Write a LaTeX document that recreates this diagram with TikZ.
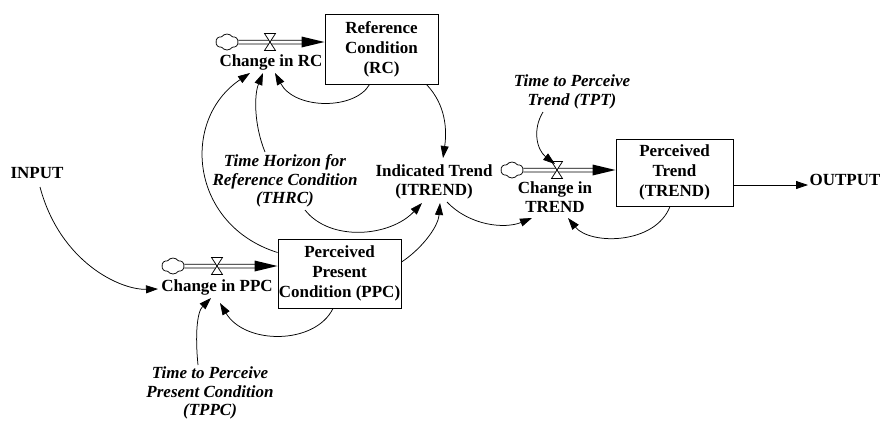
\documentclass[tikz,border=0pt]{standalone}
\usepackage{fontspec}
\setmainfont{Liberation Serif}
\usetikzlibrary{arrows.meta,shapes.symbols}
\begin{document}
\begin{tikzpicture}[x=1pt,y=-1pt,
  stock/.style={draw, line width=1pt, rectangle, inner sep=0pt, align=center, font=\fontsize{17}{20}\selectfont\bfseries},
  lbl/.style={inner sep=0pt, align=center, font=\fontsize{17}{19}\selectfont\bfseries},
  ilbl/.style={inner sep=0pt, align=center, font=\fontsize{17}{18.5}\selectfont\bfseries\itshape},
  link/.style={line width=0.75pt, -{Triangle[length=12pt,width=8pt]}},
  cloudsrc/.style={cloud, cloud puffs=6, cloud puff arc=110, draw, line width=0.75pt, minimum width=22pt, minimum height=16pt, inner sep=0pt},
  pipe/.style={draw, line width=0.75pt, double distance=3pt},
  valvestyle/.style={draw, fill=white, line width=0.75pt}
]
\useasboundingbox (0,0) rectangle (880,421);

% stocks
\node[stock, minimum width=113pt, minimum height=70pt] (rc) at (381.5,49) {Reference\\Condition\\(RC)};
\node[stock, minimum width=117pt, minimum height=67pt] (trend) at (674.5,172.5) {Perceived\\Trend\\(TREND)};
\node[stock, minimum width=123pt, minimum height=69pt] (ppc) at (339.5,273.5) {Perceived\\Present\\Condition (PPC)};

% labels
\node[lbl] (itrend) at (434,182) {Indicated Trend\\(ITREND)};
\node[lbl] (crc) at (271,62) {Change in RC};
\node[lbl] (cppc) at (217,287) {Change in PPC};
\node[lbl] (ctrend) at (555,197) {Change in\\TREND};
\node[lbl] (input) at (37,173) {INPUT};
\node[lbl] (output) at (845,180) {OUTPUT};
\node[ilbl] (thrc) at (285,181) {Time Horizon for\\Reference Condition\\(THRC)};
\node[ilbl] (tpt) at (572,92) {Time to Perceive\\Trend (TPT)};
\node[ilbl] (tppc) at (210,393) {Time to Perceive\\Present Condition\\(TPPC)};

% clouds
\node[cloudsrc] (cloudrc) at (227,42) {};
\node[cloudsrc] (cloudppc) at (173,266) {};
\node[cloudsrc] (cloudtr) at (512,170) {};

% valve centres and pipe ends
\coordinate (vrc) at (270,42);
\coordinate (vppc) at (217,266);
\coordinate (vtr) at (557,170);
\coordinate (rcin) at (rc.west |- vrc);
\coordinate (ppcin) at (ppc.west |- vppc);
\coordinate (trin) at (trend.west |- vtr);

% pipes
\draw[pipe] (cloudrc.east) -- ([xshift=-20pt]rcin);
\draw[pipe] (cloudppc.east) -- ([xshift=-20pt]ppcin);
\draw[pipe] (cloudtr.east) -- ([xshift=-20pt]trin);
\fill ([xshift=-23pt,yshift=5.5pt]rcin) -- (rcin) -- ([xshift=-23pt,yshift=-5.5pt]rcin) -- cycle;
\fill ([xshift=-23pt,yshift=5.5pt]ppcin) -- (ppcin) -- ([xshift=-23pt,yshift=-5.5pt]ppcin) -- cycle;
\fill ([xshift=-23pt,yshift=5.5pt]trin) -- (trin) -- ([xshift=-23pt,yshift=-5.5pt]trin) -- cycle;

% valves
\foreach \v in {vrc,vppc,vtr}{
  \path[valvestyle] ([shift={(-5.5,-8.5)}]\v) -- ([shift={(5.5,-8.5)}]\v) -- ([shift={(-5.5,8.5)}]\v) -- ([shift={(5.5,8.5)}]\v) -- cycle;
}

% connectors
\draw[link] ([xshift=-12pt]rc.south) .. controls (355,110) and (295,110) .. ([xshift=4pt,yshift=-11pt]crc.center);
\draw[link] ([xshift=-20pt,yshift=29pt]thrc.center) .. controls (254,125) and (254,95) .. ([xshift=-8pt,yshift=-11pt]crc.center);
\draw[link] ([yshift=21pt]ppc.west) .. controls (190,225) and (180,120) .. ([xshift=-21pt,yshift=-11pt]crc.center);
\draw[link] ([xshift=45pt]rc.south) .. controls (446,105) and (447,130) .. ([xshift=9pt,yshift=24pt]itrend.center);
\draw[link] ([xshift=20pt,yshift=-29pt]thrc.center) .. controls (330,242) and (390,237) .. ([xshift=-12pt,yshift=-21pt]itrend.center);
\draw[link] ([yshift=11.5pt]ppc.east) .. controls (420,250) and (438,228) .. ([xshift=6pt,yshift=-21pt]itrend.center);
\draw[link] ([xshift=13pt,yshift=-20pt]itrend.center) .. controls (470,226) and (505,229) .. ([xshift=-23pt,yshift=-21pt]ctrend.center);
\draw[link] ([xshift=-4.5pt]trend.south) .. controls (655,245) and (590,245) .. ([xshift=13pt,yshift=-21pt]ctrend.center);
\draw[link] ([xshift=-29pt,yshift=-20pt]tpt.center) .. controls (532,130) and (537,150) .. ([xshift=-2pt,yshift=6pt]vtr);
\draw[link] ([xshift=3pt,yshift=-14pt]input.center) .. controls (60,262) and (120,290) .. ([xshift=-59pt,yshift=-2pt]cppc.center);
\draw[link] ([xshift=-12pt,yshift=28pt]tppc.center) .. controls (195,335) and (197,312) .. ([xshift=-6pt,yshift=-11pt]cppc.center);
\draw[link] ([xshift=-6.5pt]ppc.south) .. controls (315,345) and (245,345) .. ([xshift=3pt,yshift=-16pt]cppc.center);
\draw[link] ([yshift=-12.5pt]trend.east) -- ([xshift=-37pt,yshift=-5pt]output.center);
\end{tikzpicture}
\end{document}
